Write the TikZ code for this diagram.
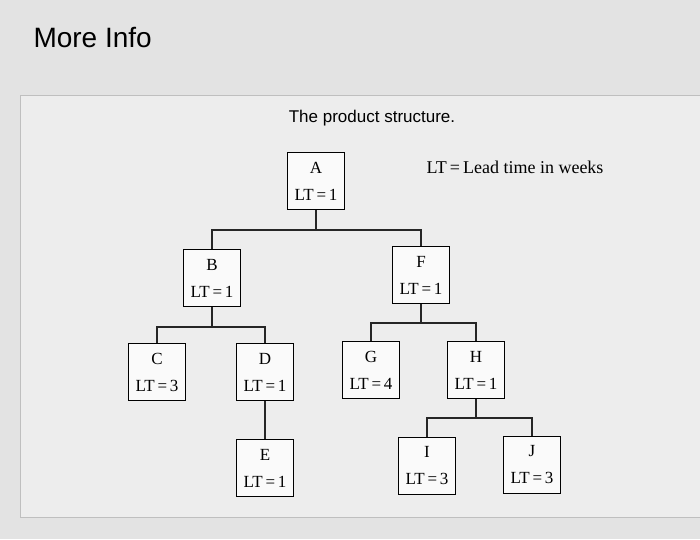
\documentclass[tikz,border=0pt]{standalone}
\usepackage{fontspec}
\setmainfont{Liberation Serif}
\newfontfamily\uisans{Liberation Sans}
\begin{document}
\begin{tikzpicture}[x=1pt,y=-1pt,
  box/.style={draw=black,line width=0.8pt,fill=white!96!gray,minimum width=57pt,minimum height=57pt,align=center,inner sep=0pt,font=\fontsize{17}{18}\selectfont},
  link/.style={draw=black!85,line width=1.2pt}]
\fill[black!11] (0,0) rectangle (700,539);
\useasboundingbox (0,0) rectangle (700,539);
\node[anchor=west,font=\uisans\fontsize{28}{30}\selectfont] (title) at (30,38) {More Info};
\draw[black!25,fill=black!7,line width=1pt] (20,95) rectangle (700,517);
\node[font=\uisans\fontsize{17}{19}\selectfont] (cap) at (372,118) {The product structure.};
\node[font=\fontsize{18}{20}\selectfont] (lt) at (515,167) {LT\,=\,Lead time in weeks};
\node[box] (A) at (316,181) {A\\[9pt]LT\,=\,1};
\node[box] (B) at (212,278) {B\\[9pt]LT\,=\,1};
\node[box] (F) at (421,275) {F\\[9pt]LT\,=\,1};
\node[box] (C) at (157,372) {C\\[9pt]LT\,=\,3};
\node[box] (D) at (265,372) {D\\[9pt]LT\,=\,1};
\node[box] (G) at (371,370) {G\\[9pt]LT\,=\,4};
\node[box] (H) at (476,370) {H\\[9pt]LT\,=\,1};
\node[box] (E) at (265,468) {E\\[9pt]LT\,=\,1};
\node[box] (I) at (427,466) {I\\[9pt]LT\,=\,3};
\node[box] (J) at (532,465) {J\\[9pt]LT\,=\,3};
\coordinate (ya) at (0,230);
\coordinate (yb) at (0,327);
\coordinate (yf) at (0,323);
\coordinate (yh) at (0,418);
\draw[link] (A.south) -- (A.south|-ya);
\draw[link] (B.north) -- (B.north|-ya) -- (F.north|-ya) -- (F.north);
\draw[link] (B.south) -- (B.south|-yb);
\draw[link] (C.north) -- (C.north|-yb) -- (D.north|-yb) -- (D.north);
\draw[link] (F.south) -- (F.south|-yf);
\draw[link] (G.north) -- (G.north|-yf) -- (H.north|-yf) -- (H.north);
\draw[link] (H.south) -- (H.south|-yh);
\draw[link] (I.north) -- (I.north|-yh) -- (J.north|-yh) -- (J.north);
\draw[link] (D.south) -- (E.north);
\end{tikzpicture}
\end{document}
